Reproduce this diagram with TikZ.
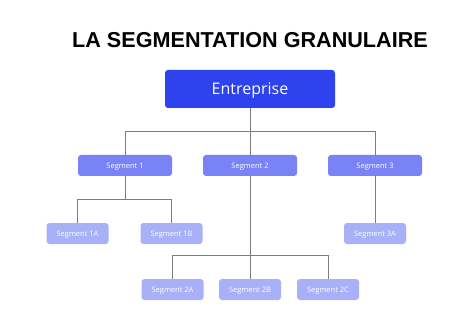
\documentclass[tikz,border=0pt]{standalone}
\usepackage{fontspec}
\setmainfont{Open Sans}
\newfontfamily\titlefont{Liberation Sans}
\definecolor{topblue}{RGB}{46,66,238}
\definecolor{midblue}{RGB}{122,131,245}
\definecolor{lowblue}{RGB}{168,176,248}
\definecolor{linegray}{RGB}{125,125,125}
\begin{document}
\begin{tikzpicture}[x=1pt,y=-1pt,
  topbox/.style={fill=topblue,rounded corners=3pt,minimum width=170pt,minimum height=38pt,text=white,font=\fontsize{16}{18}\selectfont,inner sep=0pt,text height=11.4pt,text depth=0pt},
  midbox/.style={fill=midblue,rounded corners=3pt,minimum width=94pt,minimum height=21pt,text=white,font=\fontsize{7.5}{9}\selectfont,inner sep=0pt,text height=5.4pt,text depth=0pt},
  lowbox/.style={fill=lowblue,rounded corners=3pt,minimum width=62pt,minimum height=21pt,text=white,font=\fontsize{7.5}{9}\selectfont,inner sep=0pt,text height=5.4pt,text depth=0pt},
  conn/.style={draw=linegray,line width=0.9pt}]
\useasboundingbox[fill=white] (0,0) rectangle (474,326);
\node (title) at (250,40) {\titlefont\bfseries\fontsize{21.6}{25}\selectfont LA SEGMENTATION GRANULAIRE};
\node[topbox] (ent) at (250,89) {Entreprise};
\node[midbox] (s1) at (125,165.5) {Segment 1};
\node[midbox] (s2) at (250,165.5) {Segment 2};
\node[midbox] (s3) at (375,165.5) {Segment 3};
\node[lowbox] (s1a) at (77.5,233.5) {Segment 1A};
\node[lowbox] (s1b) at (171.5,233.5) {Segment 1B};
\node[lowbox] (s3a) at (375,233.5) {Segment 3A};
\node[lowbox] (s2a) at (172.5,289.5) {Segment 2A};
\node[lowbox] (s2b) at (250,289.5) {Segment 2B};
\node[lowbox] (s2c) at (328,289.5) {Segment 2C};
\coordinate (j0) at (250,131);
\coordinate (j1) at (125,199);
\coordinate (j2) at (250,255);
\draw[conn] (ent.south) -- (j0);
\draw[conn] (j0) -| (s1.north);
\draw[conn] (j0) -- (s2.north);
\draw[conn] (j0) -| (s3.north);
\draw[conn] (s1.south) -- (j1);
\draw[conn] (j1) -| (s1a.north);
\draw[conn] (j1) -| (s1b.north);
\draw[conn] (s3.south) -- (s3a.north);
\draw[conn] (s2.south) -- (j2);
\draw[conn] (j2) -| (s2a.north);
\draw[conn] (j2) -- (s2b.north);
\draw[conn] (j2) -| (s2c.north);
\end{tikzpicture}
\end{document}
